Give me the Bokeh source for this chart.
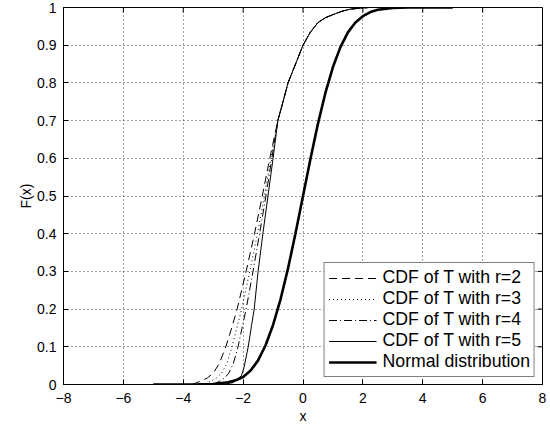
from bokeh.plotting import figure
from bokeh.models import Legend, LegendItem, FixedTicker, Range1d
from bokeh.embed import file_html
from bokeh.resources import INLINE

# ---------------- data ----------------
x_ticks = [-8, -6, -4, -2, 0, 2, 4, 6, 8]
x_tick_labels = ["\u22128", "\u22126", "\u22124", "\u22122", "0", "2", "4", "6", "8"]
y_ticks = [0, 0.1, 0.2, 0.3, 0.4, 0.5, 0.6, 0.7, 0.8, 0.9, 1.0]
y_tick_labels = ["0", "0.1", "0.2", "0.3", "0.4", "0.5", "0.6", "0.7", "0.8", "0.9", "1"]

# common upper part of the four T curves (they coincide above F~0.7)
t_tail_x = [-0.84, -0.65, -0.5, -0.25, 0.0, 0.25, 0.5, 0.75, 1.0, 1.3, 1.6, 2.2, 5.0]
t_tail_y = [0.70, 0.755, 0.80, 0.85, 0.90, 0.935, 0.96, 0.973, 0.981, 0.99, 0.996, 1.0, 1.0]

r2_x = [-5.0, -3.7, -3.45, -3.2, -3.0, -2.8, -2.58, -2.4, -2.2, -1.9, -1.62, -1.36, -1.11]
r2_y = [0.0, 0.0, 0.008, 0.017, 0.03, 0.055, 0.10, 0.145, 0.20, 0.30, 0.40, 0.50, 0.60]

r3_x = [-5.0, -3.35, -3.1, -2.9, -2.72, -2.55, -2.37, -2.05, -1.78, -1.52, -1.29, -1.07]
r3_y = [0.0, 0.0, 0.008, 0.017, 0.03, 0.055, 0.10, 0.20, 0.30, 0.40, 0.50, 0.60]

r4_x = [-5.0, -3.0, -2.8, -2.62, -2.48, -2.33, -2.17, -1.9, -1.67, -1.45, -1.24, -1.04]
r4_y = [0.0, 0.0, 0.008, 0.017, 0.03, 0.055, 0.10, 0.20, 0.30, 0.40, 0.50, 0.60]

r5_x = [-5.0, -2.7, -2.33, -2.06, -1.97, -1.83, -1.72, -1.63, -1.5, -1.34, -1.17, -1.0]
r5_y = [0.0, 0.0, 0.005, 0.023, 0.045, 0.10, 0.156, 0.20, 0.30, 0.40, 0.50, 0.60]

normal_x = [-5.0, -3.5, -3.0, -2.5, -2.25, -2.0, -1.75, -1.5, -1.25, -1.0, -0.75, -0.5, -0.25,
            0.0, 0.25, 0.5, 0.75, 1.0, 1.25, 1.5, 1.75, 2.0, 2.25, 2.5, 3.0, 3.5, 5.0]
normal_y = [0.0, 0.0003, 0.0015, 0.006, 0.011, 0.02, 0.037, 0.064, 0.104, 0.158, 0.226, 0.308, 0.401,
            0.5, 0.599, 0.692, 0.774, 0.842, 0.895, 0.934, 0.96, 0.977, 0.988, 0.994, 0.999, 1.0, 1.0]

labels = ["CDF of T with r=2", "CDF of T with r=3", "CDF of T with r=4",
          "CDF of T with r=5", "Normal distribution"]

# ---------------- figure ----------------
FONT = "Liberation Sans"
X0, X1, Y0, Y1 = -8, 8, 0, 1
W, H = 550, 426
BL, BR, BT = 63, 8, 7
TICK_PX = 5

p = figure(width=W, height=H, output_backend="svg", toolbar_location=None,
           x_range=Range1d(X0, X1), y_range=Range1d(Y0, Y1),
           min_border_left=BL, min_border_right=BR, min_border_top=BT, min_border_bottom=0,
           background_fill_color="white", border_fill_color="white")
p.outline_line_color = "black"
p.outline_line_width = 1

def style_axis(ax, ticks, labels_):
    ax.ticker = FixedTicker(ticks=ticks)
    ax.major_label_overrides = {t: l for t, l in zip(ticks, labels_)}
    ax.axis_line_color = "black"
    ax.major_tick_line_color = "black"
    ax.major_tick_in = TICK_PX
    ax.major_tick_out = 0
    ax.minor_tick_line_color = None
    ax.major_label_text_font = FONT
    ax.major_label_text_font_size = "14px"
    ax.major_label_text_color = "black"
    ax.axis_label_text_font = FONT
    ax.axis_label_text_font_size = "14px"
    ax.axis_label_text_font_style = "normal"
    ax.axis_label_text_color = "black"

style_axis(p.xaxis[0], x_ticks, x_tick_labels)
style_axis(p.yaxis[0], y_ticks, y_tick_labels)
p.xaxis[0].axis_label = "x"
p.xaxis[0].major_label_standoff = 8
p.xaxis[0].axis_label_standoff = 2
p.yaxis[0].axis_label = "F(x)"
p.yaxis[0].major_label_standoff = 7
p.yaxis[0].axis_label_standoff = 0

# inward ticks on the top and right edges of the box (length TICK_PX screen px)
fw = W - BL - BR
fh_est = 377
tx = TICK_PX * (X1 - X0) / fw
ty = TICK_PX * (Y1 - Y0) / fh_est
p.segment(x0=x_ticks, y0=[Y1] * len(x_ticks), x1=x_ticks, y1=[Y1 - ty] * len(x_ticks),
          line_color="black", line_width=1)
p.segment(x0=[X1] * len(y_ticks), y0=y_ticks, x1=[X1 - tx] * len(y_ticks), y1=y_ticks,
          line_color="black", line_width=1)

p.xgrid.ticker = FixedTicker(ticks=x_ticks)
p.ygrid.ticker = FixedTicker(ticks=y_ticks)
for g in (p.xgrid[0], p.ygrid[0]):
    g.grid_line_color = "black"
    g.grid_line_alpha = 0.75
    g.grid_line_dash = "1 3"
    g.grid_line_width = 1

rr2 = p.line(r2_x + t_tail_x, r2_y + t_tail_y, line_color="black", line_width=1, line_dash="8 5")
rr3 = p.line(r3_x + t_tail_x, r3_y + t_tail_y, line_color="black", line_width=1, line_dash="1 3")
rr4 = p.line(r4_x + t_tail_x, r4_y + t_tail_y, line_color="black", line_width=1, line_dash="8 3 1 3")
rr5 = p.line(r5_x + t_tail_x, r5_y + t_tail_y, line_color="black", line_width=1)
rrn = p.line(normal_x, normal_y, line_color="black", line_width=2.6)

legend = Legend(items=[LegendItem(label=l, renderers=[r]) for l, r in
                       zip(labels, [rr2, rr3, rr4, rr5, rrn])],
                location="bottom_right", margin=7, padding=4, spacing=0,
                glyph_width=48, glyph_height=20, label_height=20, label_standoff=6,
                label_text_font=FONT, label_text_font_size="17.7px", label_text_color="black",
                border_line_color="black", border_line_width=1, background_fill_color="white",
                background_fill_alpha=1.0)
p.add_layout(legend, "center")

open("out.html", "w").write(file_html(p, INLINE))
